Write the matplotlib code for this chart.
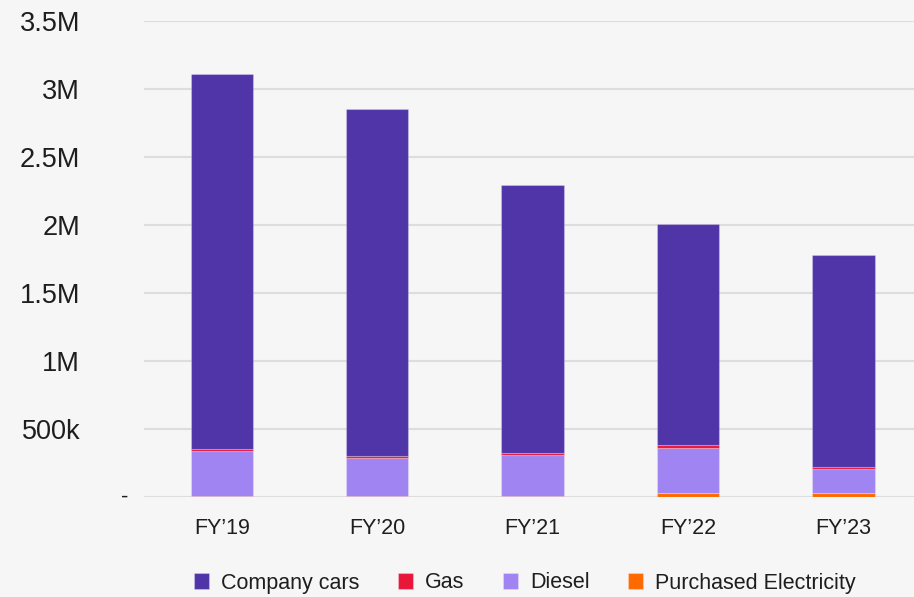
import matplotlib.pyplot as plt
import numpy as np

years = ['FY\u201919', 'FY\u201920', 'FY\u201921', 'FY\u201922', 'FY\u201923']

# values in tonnes
electricity = [5000, 5000, 5000, 25000, 25000]
diesel = [331000, 282000, 304000, 333000, 179000]
gas = [13000, 12000, 12000, 22000, 12000]
company_cars = [2757000, 2554000, 1971000, 1625000, 1561000]

series = [
    ('Company cars', company_cars, '#5035A9'),
    ('Gas', gas, '#E8173A'),
    ('Diesel', diesel, '#A084F2'),
    ('Purchased Electricity', electricity, '#FF6A00'),
]

yticks = [0, 500000, 1000000, 1500000, 2000000, 2500000, 3000000, 3500000]
ytick_labels = ['', '500k', '1M', '1.5M', '2M', '2.5M', '3M', '3.5M']

plt.rcParams['font.family'] = ['Liberation Sans', 'DejaVu Sans']
bg = '#F6F6F6'
txt = '#1E1E1E'

fig = plt.figure(figsize=(9.14, 5.97), dpi=100, facecolor=bg)
ax = fig.add_axes([144 / 914, 1 - 496.7 / 597, 1 - 144 / 914, (496.7 - 20.7) / 597])
ax.set_facecolor(bg)

x = np.arange(len(years))
bottom = np.zeros(len(years))
# stack from the bottom: electricity, diesel, gas, company cars
for name, vals, color in reversed(series):
    ax.bar(x, vals, width=0.4, bottom=bottom, color=color,
           edgecolor=(1, 1, 1, 0.25), linewidth=0.8, label=name, zorder=3)
    bottom += np.array(vals)

ax.set_ylim(0, 3500000)
ax.set_xlim(-0.5, 4.454)
ax.set_yticks(yticks)
ax.set_yticklabels(ytick_labels)
ax.set_xticks(x)
ax.set_xticklabels(years)
ax.grid(axis='y', color='#DDDDDD', linewidth=1.5, zorder=0)
ax.set_axisbelow(True)
for s in ax.spines.values():
    s.set_visible(False)
ax.tick_params(axis='y', length=0, pad=46, labelsize=19.5, labelcolor=txt)
ax.tick_params(axis='x', length=0, pad=15, labelsize=15.5, labelcolor=txt)

# the zero label is drawn as a dash, set further right
ax.text(125 / 914, 0, '-', transform=ax.get_yaxis_transform().__class__(fig.transFigure, ax.transData),
        ha='center', va='center', fontsize=16, color=txt)

handles, labels = ax.get_legend_handles_labels()
order = [labels.index(s[0]) for s in series]
leg = fig.legend([handles[i] for i in order], [labels[i] for i in order],
                 loc='center', bbox_to_anchor=(525 / 914, 1 - 583 / 597), ncol=4,
                 frameon=False, fontsize=15.5, handlelength=0.7, handleheight=0.7,
                 handletextpad=0.55, columnspacing=1.8, borderaxespad=0, borderpad=0)
for t in leg.get_texts():
    t.set_color(txt)

fig.savefig('out.png', dpi=100, facecolor=bg)
